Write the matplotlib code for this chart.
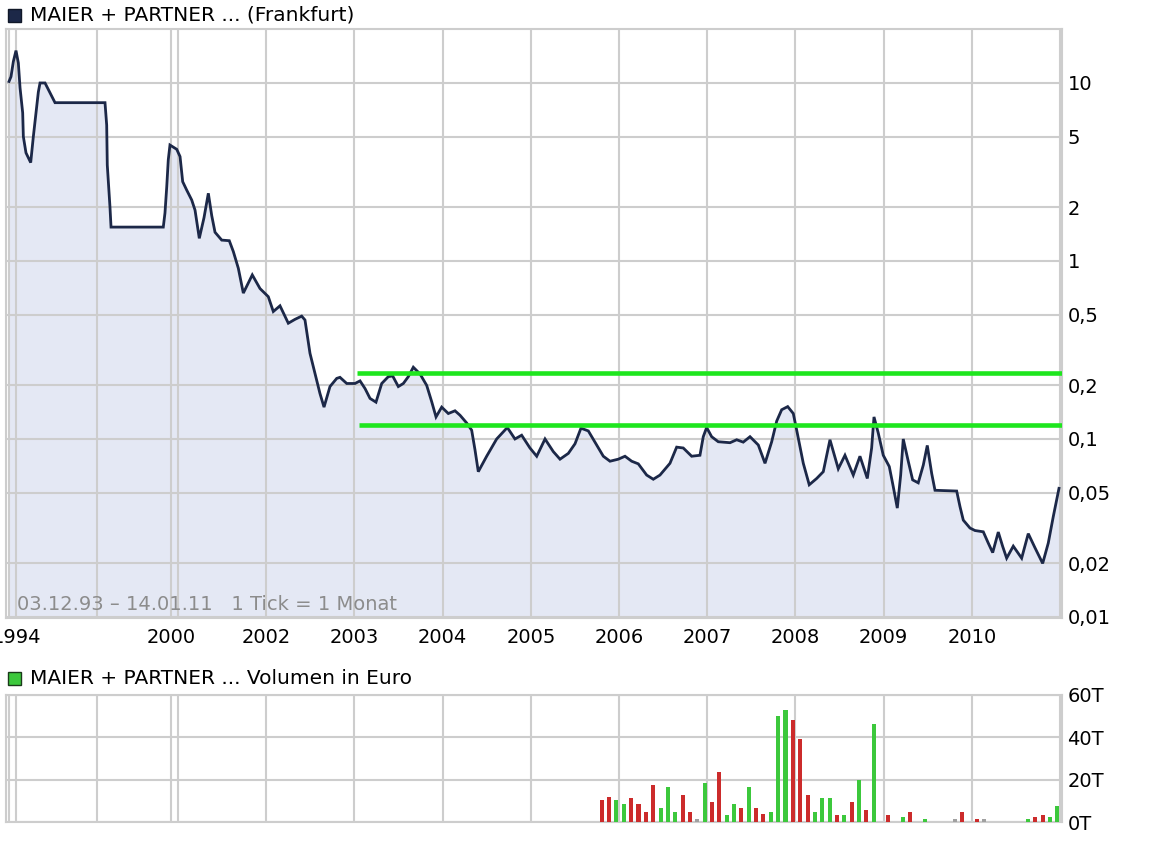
import matplotlib
matplotlib.use("Agg")
import matplotlib.pyplot as plt
from matplotlib.patches import Rectangle
from matplotlib.ticker import FixedLocator, NullFormatter

# ---------------- data ----------------
# price series: position in chart ticks (1 tick = 1 month, Dec 1993 = 0) and price in EUR
months = [0.0, 0.27, 0.59, 0.95, 1.27, 1.50, 1.86, 1.95, 2.31, 2.95, 3.31, 3.67, 3.99, 4.22,
          4.90, 5.58, 6.26, 13.06, 13.29, 13.37, 13.74, 13.88, 20.99, 21.22, 21.46, 21.67,
          21.90, 22.82, 23.27, 23.63, 24.18, 24.86, 25.31, 25.89, 26.53, 27.12, 27.58, 28.03,
          28.94, 29.97, 30.52, 31.20, 31.88, 33.10, 34.15, 35.28, 35.96, 36.87, 38.00, 38.91,
          39.82, 40.27, 40.95, 41.63, 42.31, 42.86, 43.67, 44.59, 45.03, 45.95, 47.07, 47.76,
          48.44, 49.12, 49.93, 50.71, 51.61, 52.20, 52.97, 53.65, 54.33, 55.01, 55.92, 56.83,
          57.51, 58.10, 58.87, 59.77, 60.68, 61.36, 62.27, 62.95, 63.40, 63.85, 64.99, 66.35,
          67.80, 68.84, 69.75, 70.88, 71.80, 72.93, 74.05, 74.97, 76.10, 77.01, 77.82, 78.82,
          79.96, 80.86, 81.77, 82.90, 83.81, 84.72, 85.62, 86.76, 87.66, 88.57, 89.93, 90.84,
          91.74, 92.88, 94.01, 94.46, 94.92, 95.60, 96.50, 98.10, 99.01, 99.90, 100.82, 101.95,
          102.86, 103.77, 104.45, 105.13, 105.95, 106.71, 107.25, 108.07, 108.88, 109.89,
          110.79, 111.70, 112.83, 113.74, 114.87, 115.78, 116.78, 117.37, 117.69, 118.27,
          118.95, 119.77, 120.31, 120.86, 121.32, 121.67, 122.35, 122.95, 123.71, 124.40,
          124.94, 125.54, 125.99, 128.94, 129.39, 129.84, 130.75, 131.43, 132.56, 133.24,
          133.84, 134.60, 135.20, 135.74, 136.64, 137.78, 138.68, 139.59, 140.64, 141.40,
          142.08, 142.86]
prices = [10.2, 10.85, 13.2, 15.2, 12.95, 9.4, 6.8, 5.0, 4.05, 3.57, 5.0, 6.8, 8.9, 10.0,
          10.0, 8.8, 7.75, 7.75, 5.8, 3.46, 2.0, 1.55, 1.55, 1.86, 2.61, 3.7,
          4.48, 4.24, 3.86, 2.79, 2.5, 2.2, 1.93, 1.34, 1.75, 2.4, 1.8, 1.45,
          1.31, 1.30, 1.13, 0.91, 0.66, 0.835, 0.70, 0.63, 0.52, 0.56, 0.447, 0.47,
          0.49, 0.466, 0.303, 0.234, 0.18, 0.151, 0.197, 0.219, 0.222, 0.205, 0.205, 0.212,
          0.192, 0.169, 0.161, 0.205, 0.224, 0.226, 0.197, 0.205, 0.224, 0.253, 0.232, 0.200,
          0.162, 0.133, 0.151, 0.139, 0.144, 0.136, 0.123, 0.112, 0.087, 0.0655, 0.080, 0.100,
          0.116, 0.100, 0.105, 0.089, 0.080, 0.100, 0.085, 0.077, 0.083, 0.094, 0.115, 0.111,
          0.0925, 0.080, 0.075, 0.077, 0.080, 0.075, 0.0725, 0.0627, 0.0594, 0.0627, 0.073, 0.090,
          0.089, 0.080, 0.081, 0.103, 0.116, 0.103, 0.0965, 0.0953, 0.099, 0.096, 0.103, 0.0925,
          0.073, 0.0965, 0.126, 0.146, 0.152, 0.139, 0.108, 0.073, 0.0553, 0.060,
          0.0655, 0.099, 0.068, 0.081, 0.0627, 0.080, 0.060, 0.089, 0.133, 0.108,
          0.081, 0.070, 0.054, 0.0409, 0.0627, 0.100, 0.075, 0.0589, 0.0567, 0.0714,
          0.092, 0.064, 0.0515, 0.051, 0.0417, 0.035, 0.0316, 0.0306, 0.0301, 0.026,
          0.023, 0.030, 0.0249, 0.0214, 0.025, 0.0214, 0.0294, 0.0245, 0.0200, 0.026,
          0.0366, 0.0528]

# horizontal trend lines (level, start tick)
trend_levels = [0.236, 0.120]
trend_starts = [47.3, 47.6]

# year grid positions (tick index) and labels
year_ticks = [1, 22, 35, 47, 59, 71, 83, 95, 107, 119, 131]
year_labels = ["1994", "2000", "2002", "2003", "2004", "2005", "2006", "2007", "2008", "2009", "2010"]
extra_grid = [0, 12, 23, 143]

price_ticks = [0.01, 0.02, 0.05, 0.1, 0.2, 0.5, 1, 2, 5, 10]
price_labels = ["0,01", "0,02", "0,05", "0,1", "0,2", "0,5", "1", "2", "5", "10"]

# monthly volume (thousand EUR); direction: u = up (green), d = down (red), n = unchanged
vol_month = [81, 82, 83, 84, 85, 86, 87, 88, 89, 90, 91, 92, 93, 94, 95, 96, 97, 98, 99, 100,
             101, 102, 103, 104, 105, 106, 107, 108, 109, 110, 111, 112, 113, 114, 115, 116,
             117, 118, 120, 122, 123, 125, 129, 130, 132, 133, 139, 140, 141, 142, 143]
vol_value = [10.6, 11.7, 10.6, 8.5, 11.5, 8.7, 4.6, 17.6, 6.6, 16.5, 4.6, 12.6, 4.6, 1.4, 18.4,
             9.4, 23.5, 3.5, 8.5, 6.5, 16.5, 6.5, 3.6, 4.6, 50.2, 53.1, 48.3, 39.4, 12.6, 4.6,
             11.5, 11.5, 3.5, 3.5, 9.4, 19.7, 5.5, 46.3, 3.5, 2.5, 4.6, 1.4, 1.4, 4.6, 1.4,
             1.4, 1.4, 2.5, 3.5, 2.5, 7.7]
vol_dir = ["d", "d", "u", "u", "d", "d", "d", "d", "u", "u", "u", "d", "d", "n", "u",
           "d", "d", "u", "u", "d", "u", "d", "d", "u", "u", "u", "d", "d", "d", "u",
           "u", "u", "d", "u", "d", "u", "d", "u", "d", "u", "d", "u", "n", "d", "d",
           "n", "u", "d", "d", "u", "u"]
vol_ticks = [0, 20, 40, 60]
vol_labels = ["0T", "20T", "40T", "60T"]

# ---------------- styling ----------------
W, H = 1152, 842
NAVY = "#1c2848"
FILL = "#e4e8f4"
GRID = "#cdcdcd"
GREEN_LINE = "#1ee61e"
dir_colors = {"u": "#3cc83c", "d": "#cc2b2b", "n": "#a0a0a0"}
FS = 14
FS_HEAD = 14.5

fig = plt.figure(figsize=(W / 100, H / 100), dpi=100)
fig.patch.set_facecolor("white")

left_px, right_px = 6, 1062
ax1 = fig.add_axes([left_px / W, 1 - 618 / H, (right_px - left_px) / W, (618 - 29) / H])
ax2 = fig.add_axes([left_px / W, 1 - 822 / H, (right_px - left_px) / W, (822 - 695) / H])

xmin, xmax = -0.41, 143.27
ymin, ymax = 0.00987, 20.1

for ax in (ax1, ax2):
    ax.set_xlim(xmin, xmax)
    for s in ax.spines.values():
        s.set_color(GRID)
        s.set_linewidth(1.5)
    ax.xaxis.set_major_locator(FixedLocator(year_ticks))
    ax.xaxis.set_minor_locator(FixedLocator(extra_grid))
    ax.grid(True, which="both", axis="x", color=GRID, linewidth=1.5)
    ax.grid(True, which="major", axis="y", color=GRID, linewidth=1.5)
    ax.tick_params(axis="both", which="both", length=0)
    ax.yaxis.tick_right()

# --- price panel ---
ax1.set_yscale("log")
ax1.set_ylim(ymin, ymax)
ax1.fill_between(months, prices, ymin, color=FILL, linewidth=0, zorder=1)
ax1.plot(months, prices, color=NAVY, linewidth=2.0, zorder=3, solid_joinstyle="miter")
for lvl, st in zip(trend_levels, trend_starts):
    ax1.plot([st, xmax], [lvl, lvl], color=GREEN_LINE, linewidth=3.3, zorder=4,
             solid_capstyle="butt")
ax1.yaxis.set_major_locator(FixedLocator(price_ticks))
ax1.yaxis.set_minor_locator(FixedLocator([]))
ax1.set_yticklabels(price_labels)
ax1.yaxis.set_minor_formatter(NullFormatter())
ax1.set_xticklabels(year_labels)
ax1.tick_params(axis="x", labelsize=FS, pad=7)
ax1.tick_params(axis="y", labelsize=FS, pad=4)
ax1.text((17 - left_px) / (right_px - left_px), 13 / 589,
         "03.12.93 \u2013 14.01.11   1 Tick = 1 Monat",
         transform=ax1.transAxes, fontsize=FS, color="#8c8c8c", va="center", ha="left")

# --- volume panel ---
ax2.set_ylim(0, 60)
bar_x = [m - 0.35 for m in vol_month]
ax2.bar(bar_x, vol_value, width=0.55, color=[dir_colors[d] for d in vol_dir],
        linewidth=0, zorder=3)
ax2.yaxis.set_major_locator(FixedLocator(vol_ticks))
ax2.set_yticklabels(vol_labels)
ax2.set_xticklabels([])
ax2.tick_params(axis="y", labelsize=FS, pad=4)

# --- headers ---
fig.patches.append(Rectangle((8 / W, 1 - 22 / H), 13 / W, 13 / H, transform=fig.transFigure,
                             facecolor=NAVY, edgecolor="#101828", linewidth=1))
fig.text(30 / W, 1 - 15 / H, "MAIER + PARTNER ... (Frankfurt)", fontsize=FS_HEAD,
         va="center", ha="left", color="black")
fig.patches.append(Rectangle((8 / W, 1 - 685 / H), 13 / W, 13 / H, transform=fig.transFigure,
                             facecolor="#3cc83c", edgecolor="#1a3a1a", linewidth=1))
fig.text(30 / W, 1 - 678 / H, "MAIER + PARTNER ... Volumen in Euro", fontsize=FS_HEAD,
         va="center", ha="left", color="black")

fig.savefig("out.png", dpi=100)
